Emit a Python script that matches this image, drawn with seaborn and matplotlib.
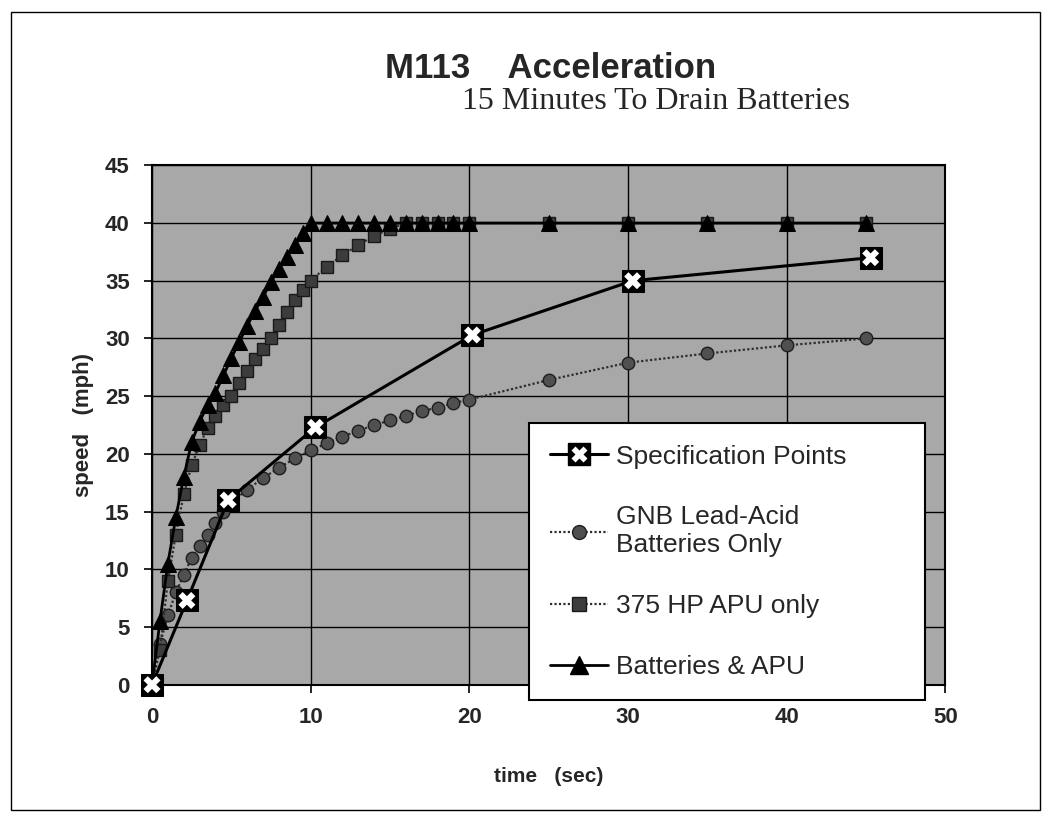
import matplotlib
matplotlib.use("Agg")
import matplotlib.pyplot as plt
import seaborn as sns
from matplotlib.lines import Line2D
from matplotlib.legend_handler import HandlerTuple
from matplotlib.patches import Rectangle

# ---------------- data ----------------
spec_t = [0, 2.2, 4.8, 10.3, 20.2, 30.3, 45.3]
spec_v = [0, 7.3, 16.0, 22.3, 30.3, 35.0, 37.0]

gnb_t = [0, 0.5, 1, 1.5, 2, 2.5, 3, 3.5, 4, 4.5, 5, 6, 7, 8, 9, 10, 11, 12, 13, 14,
         15, 16, 17, 18, 19, 20, 25, 30, 35, 40, 45]
gnb_v = [0, 3.5, 6.0, 8.0, 9.5, 11.0, 12.0, 13.0, 14.0, 15.0, 15.8, 16.9, 17.9, 18.8,
         19.6, 20.3, 20.9, 21.5, 22.0, 22.5, 22.9, 23.3, 23.7, 24.0, 24.4, 24.7,
         26.4, 27.9, 28.7, 29.4, 30.0]

apu_t = [0, 0.5, 1, 1.5, 2, 2.5, 3, 3.5, 4, 4.5, 5, 5.5, 6, 6.5, 7, 7.5, 8, 8.5, 9, 9.5,
         10, 11, 12, 13, 14, 15, 16, 17, 18, 19, 20, 25, 30, 35, 40, 45]
apu_v = [0, 3.0, 9.0, 13.0, 16.5, 19.0, 20.8, 22.2, 23.3, 24.2, 25.0, 26.1, 27.2, 28.2,
         29.1, 30.0, 31.2, 32.3, 33.3, 34.2, 35.0, 36.2, 37.2, 38.1, 38.9, 39.5, 40, 40,
         40, 40, 40, 40, 40, 40, 40, 40]

ba_t = [0, 0.5, 1, 1.5, 2, 2.5, 3, 3.5, 4, 4.5, 5, 5.5, 6, 6.5, 7, 7.5, 8, 8.5, 9, 9.5,
        10, 11, 12, 13, 14, 15, 16, 17, 18, 19, 20, 25, 30, 35, 40, 45]
ba_v = [0, 5.5, 10.5, 14.5, 18.0, 21.0, 22.8, 24.2, 25.3, 26.8, 28.3, 29.7, 31.1, 32.4,
        33.6, 34.9, 36.0, 37.1, 38.1, 39.1, 40, 40, 40, 40, 40, 40, 40, 40, 40, 40, 40,
        40, 40, 40, 40, 40]

labels = ["Specification Points", "GNB Lead-Acid\nBatteries Only",
          "375 HP APU only", "Batteries & APU"]
x_ticks = [0, 10, 20, 30, 40, 50]
y_ticks = [0, 5, 10, 15, 20, 25, 30, 35, 40, 45]

# ---------------- style ----------------
sns.set_theme(style="white")
plt.rcParams["font.family"] = ["Liberation Sans", "DejaVu Sans"]

fig = plt.figure(figsize=(10.52, 8.35), dpi=100)
ax = fig.add_axes([0.1445, 0.18, 0.754, 0.622])
ax.set_facecolor("#a8a8a8")
ax.set_axisbelow(True)
ax.grid(True, color="black", lw=1.0)

# GNB
sns.lineplot(x=gnb_t, y=gnb_v, ax=ax, color="#2e2e2e", lw=1.6, linestyle=(0, (1, 1)),
             marker="o", markersize=9, markerfacecolor="#505050",
             markeredgecolor="#1e1e1e", markeredgewidth=1, clip_on=False, zorder=3)
# APU
sns.lineplot(x=apu_t, y=apu_v, ax=ax, color="#2e2e2e", lw=1.6, linestyle=(0, (1, 1)),
             marker="s", markersize=9, markerfacecolor="#3c3c3c",
             markeredgecolor="#1a1a1a", markeredgewidth=1, clip_on=False, zorder=3)
# Batteries & APU
sns.lineplot(x=ba_t, y=ba_v, ax=ax, color="black", lw=2.0,
             marker="^", markersize=11, markerfacecolor="black",
             markeredgecolor="black", clip_on=False, zorder=4)
# Specification points
sns.lineplot(x=spec_t, y=spec_v, ax=ax, color="black", lw=2.2,
             marker="s", markersize=16, markerfacecolor="black",
             markeredgecolor="black", clip_on=False, zorder=5)
sns.scatterplot(x=spec_t, y=spec_v, ax=ax, marker="X", s=150, color="white",
                edgecolor="none", clip_on=False, zorder=6)

ax.set_xlim(0, 50)
ax.set_ylim(0, 45)
ax.set_xticks(x_ticks)
ax.set_yticks(y_ticks)
ax.tick_params(axis="both", direction="out", length=6, width=1.2, color="black",
               labelsize=16, pad=10, bottom=True, left=True)
ax.tick_params(axis="y", pad=10)
for lab in ax.get_xticklabels() + ax.get_yticklabels():
    lab.set_fontweight("bold")
for s in ax.spines.values():
    s.set_color("black")
    s.set_linewidth(1.5)

ax.set_xlabel("time   (sec)", fontsize=15, fontweight="bold", labelpad=28)
ax.set_ylabel("speed   (mph)", fontsize=16, fontweight="bold", labelpad=8)

# legend
h_spec = (Line2D([], [], color="black", lw=2.2, marker="s", ms=16, mfc="black", mec="black"),
          Line2D([], [], ls="none", marker="X", ms=11, mfc="white", mec="none"))
h_gnb = Line2D([], [], color="#2e2e2e", lw=1.6, ls=(0, (1, 1)), marker="o", ms=10,
               mfc="#505050", mec="#1e1e1e")
h_apu = Line2D([], [], color="#2e2e2e", lw=1.6, ls=(0, (1, 1)), marker="s", ms=10,
               mfc="#3c3c3c", mec="#1a1a1a")
h_ba = Line2D([], [], color="black", lw=2.0, marker="^", ms=13, mfc="black", mec="black")
leg = ax.legend([h_spec, h_gnb, h_apu, h_ba], labels,
                handler_map={tuple: HandlerTuple(ndivide=1)},
                loc="lower left", bbox_to_anchor=(0.475, -0.03, 0.5, 0.5), mode="expand",
                frameon=True, fancybox=False, framealpha=1, facecolor="white",
                edgecolor="black", fontsize=19, labelspacing=1.4,
                handlelength=2.2, handletextpad=0.3, borderpad=0.8, borderaxespad=0)
leg.get_frame().set_linewidth(1.5)

# titles
fig.text(0.523, 0.918, "M113    Acceleration", ha="center", va="center",
         fontsize=25, fontweight="bold")
fig.text(0.624, 0.879, "15 Minutes To Drain Batteries", ha="center", va="center",
         fontsize=23, family=["Liberation Serif", "DejaVu Serif"])

# outer frame
fig.patches.append(Rectangle((0.01, 0.03), 0.979, 0.956, transform=fig.transFigure,
                             fill=False, lw=1.0, ec="black"))

fig.savefig("out.png", dpi=100, facecolor="white")
